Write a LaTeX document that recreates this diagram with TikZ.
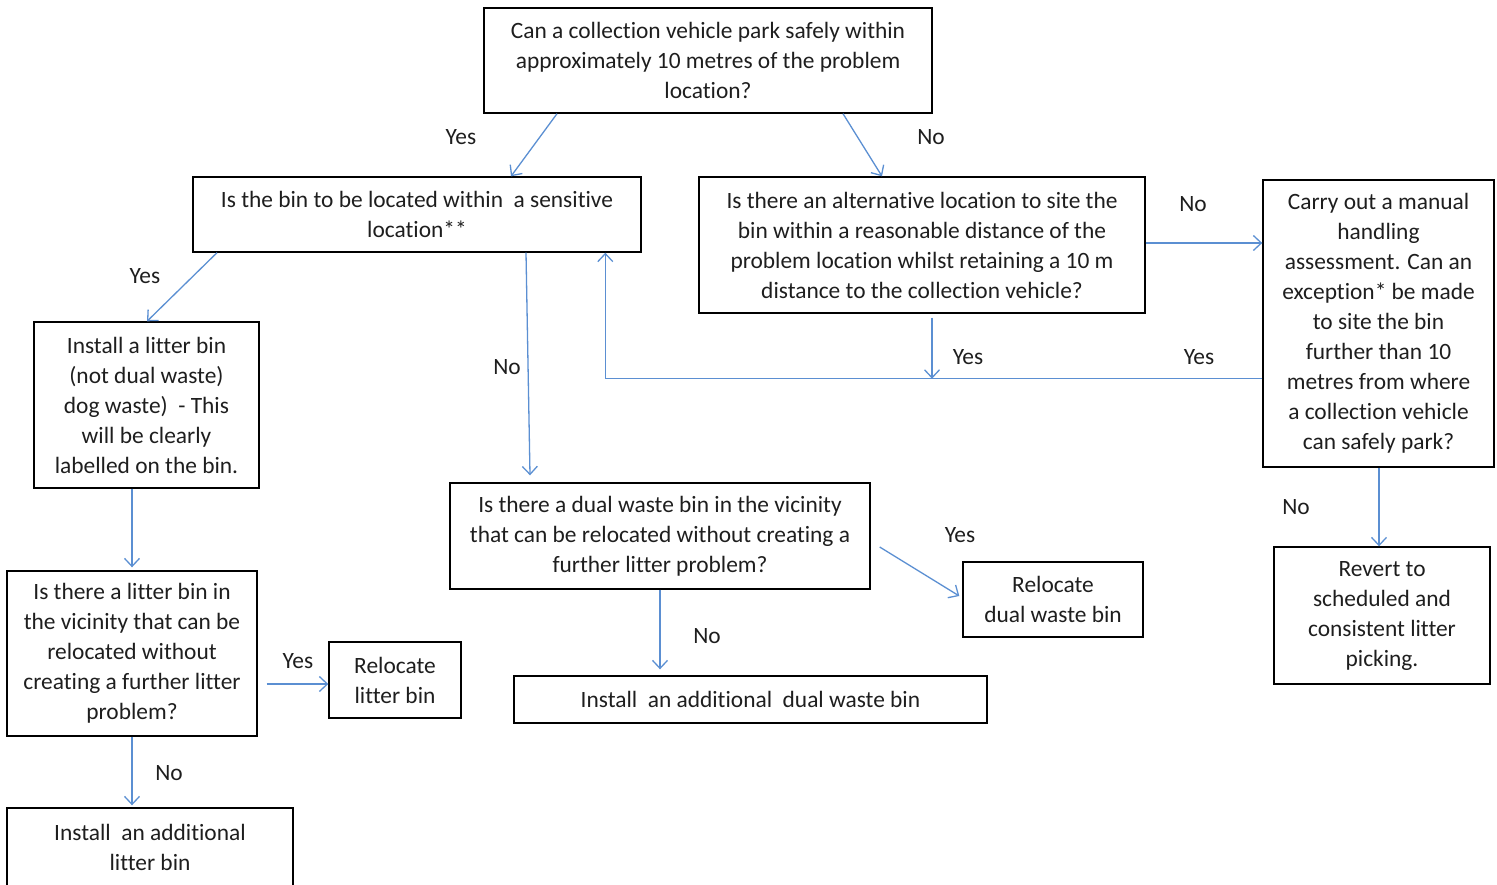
\documentclass[tikz,border=0pt]{standalone}
\usepackage{fontspec}
\setmainfont{Carlito}[Ligatures=NoCommon]
\usetikzlibrary{arrows.meta, calc}
\definecolor{lineblue}{RGB}{91,143,210}
\definecolor{txt}{RGB}{30,30,30}

\begin{document}
\begin{tikzpicture}[x=0.5pt, y=-0.5pt,
	box/.style={draw, line width=0.7pt, align=center, inner sep=0pt, text=txt,
		font=\fontsize{11.7}{15}\selectfont},
	lbl/.style={text=txt, font=\fontsize{11.7}{15}\selectfont, inner sep=0pt},
	flow/.style={lineblue, line width=0.65pt, -{Straight Barb[length=4pt, width=7.5pt]}}]

\useasboundingbox (0,0) rectangle (1497,884);
\clip (0,0) rectangle (1497,884);

\node[box, minimum width=224pt, minimum height=52.5pt] (park) at (708,60.5)
	{Can a collection vehicle park safely within\\ approximately 10 metres of the problem\\ location?};
\node[box, minimum width=224pt, minimum height=37.5pt] (sensitive) at (417,214.5)
	{Is the bin to be located within\ \ a sensitive\\ location**};
\node[box, minimum width=223pt, minimum height=68pt] (altsite) at (922,245)
	{Is there an alternative location to site the\\ bin within a reasonable distance of the\\ problem location whilst retaining a 10 m\\ distance to the collection vehicle?};
\node[box, minimum width=115.5pt, minimum height=143.5pt] (manual) at (1378.5,323.5)
	{Carry out a manual\\ handling\\ assessment. Can an\\ exception* be made\\ to site the bin\\ further than 10\\ metres from where\\ a collection vehicle\\ can safely park?};
\node[box, minimum width=112.5pt, minimum height=83pt] (litterbin) at (146.5,405)
	{Install a litter bin\\ (not dual waste)\\ dog waste)\ \ - This\\ will be clearly\\ labelled on the bin.};
\node[box, minimum width=210pt, minimum height=53pt] (dualnear) at (660,536)
	{Is there a dual waste bin in the vicinity\\ that can be relocated without creating a\\ further litter problem?};
\node[box, minimum width=90pt, minimum height=37.5pt] (moveDual) at (1053,599.5)
	{Relocate\\ dual waste bin};
\node[box, minimum width=125pt, minimum height=82.5pt] (litternear) at (132,653.5)
	{Is there a litter bin in\\ the vicinity that can be\\ relocated without\\ creating a further litter\\ problem?};
\node[box, minimum width=66pt, minimum height=38pt] (moveLitter) at (395,680)
	{Relocate\\ litter bin};
\node[box, minimum width=236.5pt, minimum height=23.5pt] (addDual) at (750.5,699.5)
	{Install\ \ an additional\ \ dual waste bin};
\node[box, minimum width=108pt, minimum height=68.5pt] (revert) at (1382,615.5)
	{Revert to\\ scheduled and\\ consistent litter\\ picking.};
\node[box, minimum width=143pt, minimum height=39pt] (addLitter) at (150,847)
	{Install\ \ an additional\\ litter bin};

\node[lbl] (yesA) at (461,137) {Yes};
\node[lbl] (noA) at (931,137) {No};
\node[lbl] (yesB) at (145,276) {Yes};
\node[lbl] (noB) at (507,367) {No};
\node[lbl] (noC) at (1193,204) {No};
\node[lbl] (yesC) at (968,357) {Yes};
\node[lbl] (yesD) at (1199,357) {Yes};
\node[lbl] (noD) at (1296,507) {No};
\node[lbl] (yesE) at (298,661) {Yes};
\node[lbl] (noE) at (169,773) {No};
\node[lbl] (yesF) at (960,535) {Yes};
\node[lbl] (noF) at (707,636) {No};

\draw[flow] ($(park.south)+(-151,0)$) -- ($(sensitive.north)+(94,0)$);
\draw[flow] ($(park.south)+(135,0)$) -- ($(altsite.north)+(-40,0)$);
\draw[flow] ($(sensitive.south)+(-200,0)$) -- ($(litterbin.north)+(0.5,0)$);
\draw[flow] ($(sensitive.south)+(109,0)$) -- ($(dualnear.north)+(-130,-7)$);
\draw[flow] ($(altsite.east)+(0,-2)$) -- ($(manual.west)+(0,-80.5)$);

\coordinate (yesline) at ($(manual.south west)+(0,-89)$);
\draw[flow] ($(altsite.south)+(10,4)$) -- ($(altsite.south |- yesline)+(10,0)$);
\draw[flow] (yesline) -| ($(sensitive.south west)+(413,0)$);

\draw[flow] ($(litterbin.south)+(-14.5,0)$) -- ($(litternear.north)+(0,-3)$);
\draw[flow] ($(litternear.east)+(9,30.5)$) -- ($(moveLitter.west)+(0,4)$);
\draw[flow] (litternear.south) -- ($(addLitter.north)+(-18,-2)$);
\draw[flow] ($(dualnear.east)+(9,11)$) -- ($(moveDual.west)+(-3,-3.5)$);
\draw[flow] (dualnear.south) -- ($(addDual.north)+(-90.5,-6)$);
\draw[flow] ($(manual.south)+(0.5,0)$) -- ($(revert.north)+(-3,0)$);

\end{tikzpicture}
\end{document}
